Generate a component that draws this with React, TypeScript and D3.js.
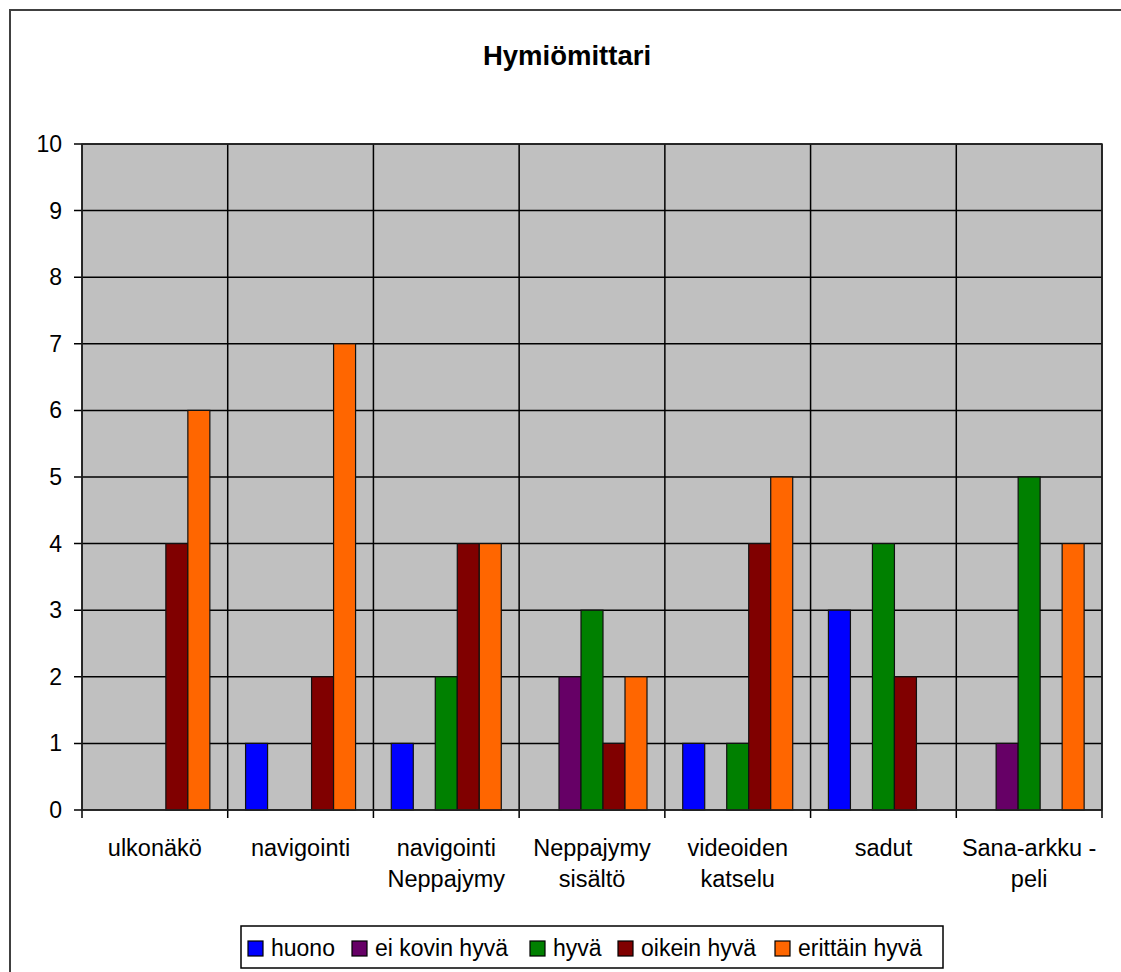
import React from "react";
import * as d3 from "d3";

const categories: string[][] = [
  ["ulkonäkö"],
  ["navigointi"],
  ["navigointi", "Neppajymy"],
  ["Neppajymy", "sisältö"],
  ["videoiden", "katselu"],
  ["sadut"],
  ["Sana-arkku -", "peli"],
];
const seriesNames = ["huono", "ei kovin hyvä", "hyvä", "oikein hyvä", "erittäin hyvä"];
const seriesColors = ["#0000FF", "#660066", "#008000", "#800000", "#FF6600"];
const huono = [0, 1, 1, 0, 1, 3, 0];
const eiKovinHyva = [0, 0, 0, 2, 0, 0, 1];
const hyva = [0, 0, 2, 3, 1, 4, 5];
const oikeinHyva = [4, 2, 4, 1, 4, 2, 0];
const erittainHyva = [6, 7, 4, 2, 5, 0, 4];
const seriesValues = [huono, eiKovinHyva, hyva, oikeinHyva, erittainHyva];
const yTicks = [0, 1, 2, 3, 4, 5, 6, 7, 8, 9, 10];
const title = "Hymiömittari";

const W = 1121;
const H = 972;
const plot = { left: 82, right: 1102, top: 144, bottom: 810 };
const legendSwatchX = [248, 352, 530, 618, 775];
const FONT = "'Liberation Sans', Arial, sans-serif";

export default function App() {
  const idx = categories.map((_, i) => String(i));
  const x0 = d3.scaleBand<string>().domain(idx).range([plot.left, plot.right]).paddingInner(0).paddingOuter(0);
  const bw = x0.bandwidth();
  const barW = 22;
  const inner = (bw - barW * seriesNames.length) / 2;
  const y = d3.scaleLinear().domain([0, 10]).range([plot.bottom, plot.top]);
  const boundaries = d3.range(categories.length + 1).map((i) => plot.left + i * bw);

  return (
    <svg width={W} height={H} style={{ position: "absolute", left: 0, top: 0 }} fontFamily={FONT}>
      <rect x={0} y={0} width={W} height={H} fill="#fff" />
      <rect x={10} y={10} width={W + 20} height={H + 20} fill="none" stroke="#404040" strokeWidth={2} />
      <text x={567} y={65} textAnchor="middle" fontWeight="bold" fontSize={27.5} fill="#000">
        {title}
      </text>
      <rect x={plot.left} y={plot.top} width={plot.right - plot.left} height={plot.bottom - plot.top} fill="#C0C0C0" />
      {yTicks.map((t) => (
        <line key={"h" + t} x1={plot.left - 8} x2={plot.right} y1={y(t)} y2={y(t)} stroke="#000" strokeWidth={1.5} />
      ))}
      {boundaries.map((bx, i) => (
        <line key={"v" + i} x1={bx} x2={bx} y1={plot.top} y2={plot.bottom + 8} stroke="#000" strokeWidth={1.5} />
      ))}
      {seriesValues.map((vals, s) =>
        vals.map((v, c) =>
          v > 0 ? (
            <rect
              key={s + "-" + c}
              x={(x0(String(c)) as number) + inner + s * barW}
              y={y(v)}
              width={barW}
              height={y(0) - y(v)}
              fill={seriesColors[s]}
              stroke="#111"
              strokeWidth={1.2}
            />
          ) : null
        )
      )}
      <rect x={plot.left} y={plot.top} width={plot.right - plot.left} height={plot.bottom - plot.top} fill="none" stroke="#222" strokeWidth={1.5} />
      {yTicks.map((t) => (
        <text key={"yt" + t} x={62} y={y(t)} dy="0.35em" textAnchor="end" fontSize={23} fill="#000">
          {t}
        </text>
      ))}
      {categories.map((lines, c) => (
        <text key={"c" + c} x={(x0(String(c)) as number) + bw / 2} y={856} textAnchor="middle" fontSize={23.5} fill="#000">
          {lines.map((l, k) => (
            <tspan key={k} x={(x0(String(c)) as number) + bw / 2} dy={k === 0 ? 0 : 31}>
              {l}
            </tspan>
          ))}
        </text>
      ))}
      <rect x={241} y={926} width={702} height={42} fill="#fff" stroke="#000" strokeWidth={1.5} />
      {seriesNames.map((n, s) => (
        <g key={"lg" + s}>
          <rect x={legendSwatchX[s]} y={941} width={15} height={15} fill={seriesColors[s]} stroke="#000" strokeWidth={1.2} />
          <text x={legendSwatchX[s] + 23} y={956} fontSize={23} fill="#000">
            {n}
          </text>
        </g>
      ))}
    </svg>
  );
}
